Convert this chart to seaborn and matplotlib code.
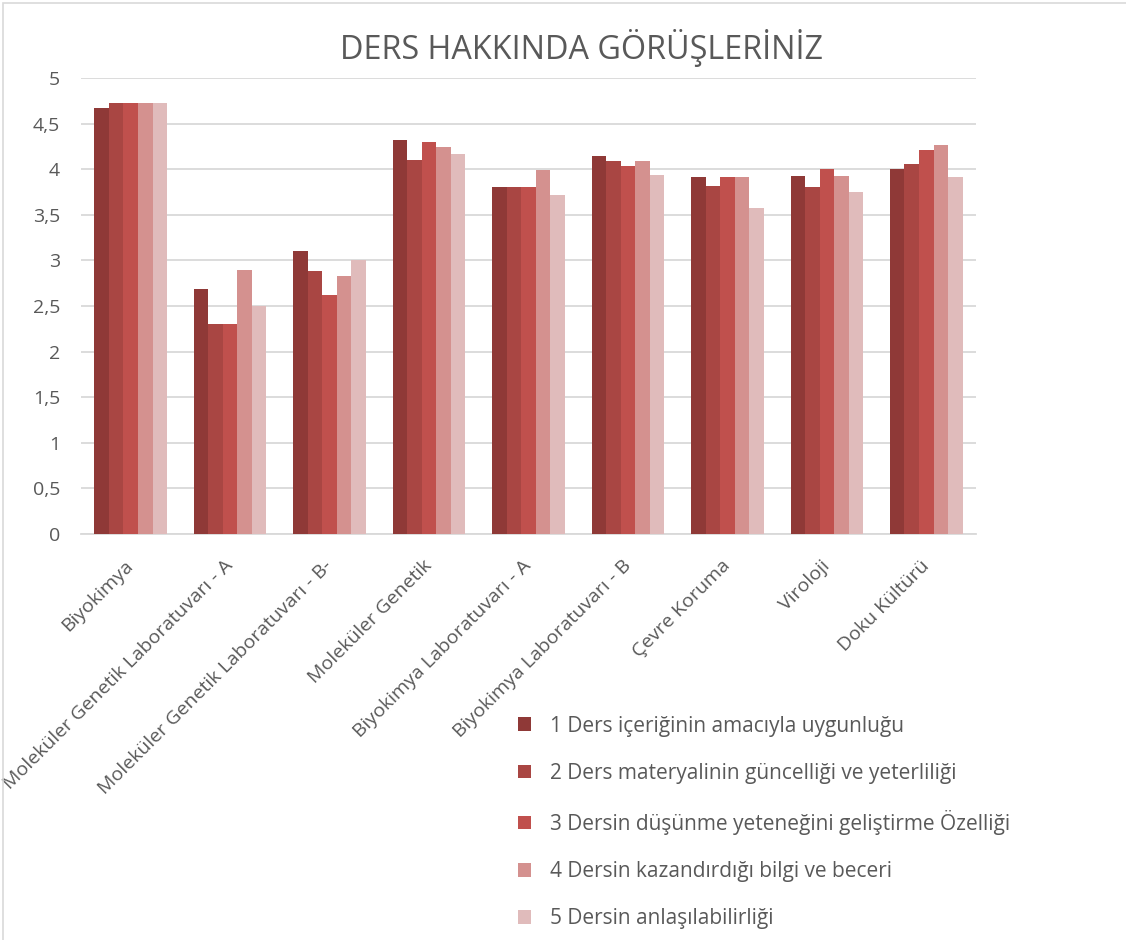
import numpy as np
import pandas as pd
import matplotlib.pyplot as plt
import seaborn as sns
from matplotlib.patches import Rectangle
from matplotlib.ticker import FuncFormatter

courses = ['Biyokimya', 'Moleküler Genetik Laboratuvarı - A',
           'Moleküler Genetik Laboratuvarı - B-', 'Moleküler Genetik',
           'Biyokimya Laboratuvarı - A', 'Biyokimya Laboratuvarı - B',
           'Çevre Koruma', 'Viroloji', 'Doku Kültürü']
questions = ['1 Ders içeriğinin amacıyla uygunluğu',
             '2 Ders materyalinin güncelliği ve yeterliliği',
             '3 Dersin düşünme yeteneğini geliştirme Özelliği',
             '4 Dersin kazandırdığı bilgi ve beceri',
             '5 Dersin anlaşılabilirliği']
q1 = [4.67, 2.69, 3.10, 4.32, 3.81, 4.14, 3.91, 3.93, 4.00]
q2 = [4.73, 2.30, 2.88, 4.10, 3.81, 4.09, 3.82, 3.81, 4.06]
q3 = [4.73, 2.30, 2.62, 4.30, 3.81, 4.04, 3.91, 4.00, 4.21]
q4 = [4.73, 2.89, 2.83, 4.24, 3.99, 4.09, 3.91, 3.93, 4.27]
q5 = [4.73, 2.50, 3.00, 4.17, 3.72, 3.94, 3.57, 3.75, 3.91]
colors = ['#8F3937', '#A94643', '#C0504D', '#D4918F', '#E0BBBB']

rows = []
for q, vals in zip(questions, [q1, q2, q3, q4, q5]):
    for c, v in zip(courses, vals):
        rows.append({'Ders': c, 'Soru': q, 'Puan': v})
df = pd.DataFrame(rows)

sns.set_style('white')
plt.rcParams['font.family'] = ['Open Sans', 'DejaVu Sans']
text_color = '#595959'

fig = plt.figure(figsize=(11.26, 9.40), dpi=100)
ax = fig.add_axes([81 / 1126, 1 - 534 / 940, (976 - 81) / 1126, (534 - 78) / 940])

sns.barplot(data=df, x='Ders', y='Puan', hue='Soru', palette=colors,
            order=courses, hue_order=questions, width=0.73, saturation=1,
            edgecolor='none', linewidth=0, ax=ax, legend=True, zorder=3)

ax.set_ylim(0, 5)
ax.set_xlim(-0.5, len(courses) - 0.5)
ax.set_yticks(np.arange(0, 5.01, 0.5))
ax.yaxis.set_major_formatter(FuncFormatter(lambda v, p: f'{v:g}'.replace('.', ',')))
ax.grid(axis='y', color='#D9D9D9', linewidth=1.3, zorder=0)
ax.set_axisbelow(True)
for s in ['top', 'right', 'left']:
    ax.spines[s].set_visible(False)
ax.spines['bottom'].set_color('#D9D9D9')
ax.spines['bottom'].set_linewidth(1.3)
ax.tick_params(axis='y', length=0, colors=text_color, labelsize=14, pad=15)
ax.tick_params(axis='x', length=0, colors=text_color, labelsize=14, pad=21)
ax.set_xlabel('')
ax.set_ylabel('')
plt.setp(ax.get_xticklabels(), rotation=45, ha='right', va='center',
         rotation_mode='anchor', color=text_color)

handles, labels = ax.get_legend_handles_labels()
ax.get_legend().remove()
fig.legend(handles, labels, loc='upper left', bbox_to_anchor=(499 / 1126, 1 - 697 / 940),
           frameon=False, fontsize=15, labelcolor=text_color,
           handlelength=0.65, handleheight=0.65, handletextpad=0.9,
           labelspacing=1.25)

fig.text(581 / 1126, 1 - 48 / 940, 'DERS HAKKINDA GÖRÜŞLERİNİZ', ha='center', va='center',
         fontsize=23.3, color=text_color)

fig.patches.append(Rectangle((3 / 1126, -0.1), 1.2, 1 - 3 / 940 + 0.1,
                             transform=fig.transFigure, fill=False,
                             edgecolor='#D9D9D9', linewidth=1.2))

fig.savefig('out.png', dpi=100)
